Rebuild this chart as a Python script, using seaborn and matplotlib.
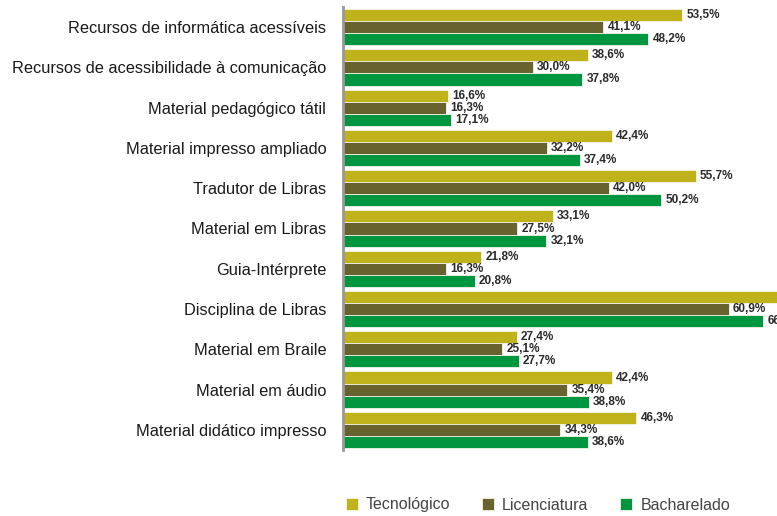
import matplotlib
matplotlib.use("Agg")
import matplotlib.pyplot as plt
import pandas as pd
import seaborn as sns

categorias = [
    "Recursos de informática acessíveis",
    "Recursos de acessibilidade à comunicação",
    "Material pedagógico tátil",
    "Material impresso ampliado",
    "Tradutor de Libras",
    "Material em Libras",
    "Guia-Intérprete",
    "Disciplina de Libras",
    "Material em Braile",
    "Material em áudio",
    "Material didático impresso",
]
tecnologico = [53.5, 38.6, 16.6, 42.4, 55.7, 33.1, 21.8, 71.0, 27.4, 42.4, 46.3]
licenciatura = [41.1, 30.0, 16.3, 32.2, 42.0, 27.5, 16.3, 60.9, 25.1, 35.4, 34.3]
bacharelado = [48.2, 37.8, 17.1, 37.4, 50.2, 32.1, 20.8, 66.3, 27.7, 38.8, 38.6]
series = ["Tecnológico", "Licenciatura", "Bacharelado"]
cores = ["#bfb21a", "#68622f", "#00963f"]

df = pd.DataFrame({
    "categoria": categorias * 3,
    "valor": tecnologico + licenciatura + bacharelado,
    "curso": [s for s in series for _ in categorias],
})

sns.set_style("white")
plt.rcParams["font.family"] = ["Liberation Sans", "DejaVu Sans"]

fig = plt.figure(figsize=(7.77, 5.16), dpi=100, facecolor="white")
ax = fig.add_axes([343 / 777, 1 - 450 / 516, 1 - 343 / 777, 443 / 516])

sns.barplot(data=df, y="categoria", x="valor", hue="curso", hue_order=series,
            palette=cores, saturation=1, orient="h", width=0.9, gap=0.0, ax=ax,
            edgecolor="#f4f4e8", linewidth=0.6, legend=True)

for cont in ax.containers:
    labels = [f"{b.get_width():.1f}%".replace(".", ",") for b in cont]
    ax.bar_label(cont, labels=labels, padding=3, fontsize=8.5, fontweight="bold",
                 color="#2a2a2a")

ax.set_xlim(0, 68.5)
ax.set_xlabel("")
ax.set_ylabel("")
ax.set_xticks([])
ax.tick_params(axis="y", length=0, pad=12, labelsize=11.8, labelcolor="#1a1a1a")
for s in ["top", "right", "bottom"]:
    ax.spines[s].set_visible(False)
ax.spines["left"].set_color("#999999")
ax.spines["left"].set_linewidth(2)

handles, lbls = ax.get_legend_handles_labels()
ax.legend_.remove()
fig.legend(handles, lbls, loc="center", bbox_to_anchor=(538 / 777, 1 - 505 / 516),
           ncol=3, frameon=False, fontsize=11.5, handlelength=0.75, handleheight=0.75,
           handletextpad=0.5, columnspacing=2.0, labelcolor="#444444")

plt.savefig("out.png", dpi=100, facecolor="white")
